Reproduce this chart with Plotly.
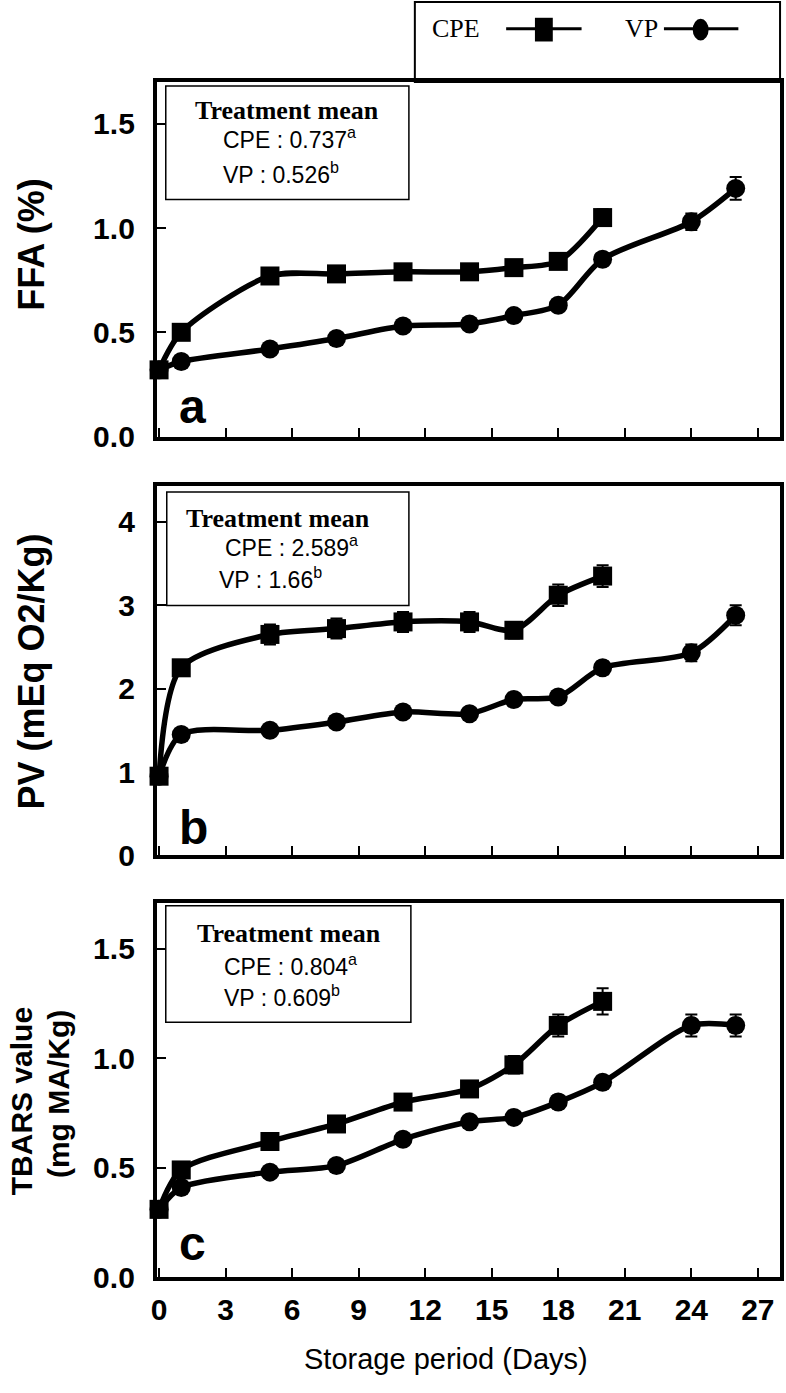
import plotly.graph_objects as go

W, H = 786, 1393

# ---------------- data ----------------
days_cpe = [0, 1, 5, 8, 11, 14, 16, 18, 20]
days_vp = [0, 1, 5, 8, 11, 14, 16, 18, 20, 24, 26]

ffa_cpe = [0.32, 0.50, 0.77, 0.78, 0.79, 0.79, 0.81, 0.84, 1.05]
ffa_cpe_err = [0.02, 0.02, 0.03, 0.03, 0.03, 0.03, 0.03, 0.03, 0.04]
ffa_vp = [0.32, 0.36, 0.42, 0.47, 0.53, 0.54, 0.58, 0.63, 0.85, 1.03, 1.19]
ffa_vp_err = [0.02, 0.02, 0.02, 0.02, 0.02, 0.02, 0.02, 0.02, 0.03, 0.04, 0.055]

pv_cpe = [0.95, 2.25, 2.65, 2.72, 2.80, 2.80, 2.70, 3.12, 3.35]
pv_cpe_err = [0.05, 0.05, 0.12, 0.12, 0.12, 0.12, 0.10, 0.13, 0.13]
pv_vp = [0.95, 1.45, 1.50, 1.60, 1.72, 1.70, 1.87, 1.90, 2.25, 2.43, 2.88]
pv_vp_err = [0.05, 0.05, 0.05, 0.05, 0.05, 0.05, 0.05, 0.06, 0.08, 0.10, 0.12]

tbars_cpe = [0.31, 0.49, 0.62, 0.70, 0.80, 0.86, 0.97, 1.15, 1.26]
tbars_cpe_err = [0.02, 0.03, 0.02, 0.02, 0.03, 0.03, 0.04, 0.05, 0.06]
tbars_vp = [0.31, 0.41, 0.48, 0.51, 0.63, 0.71, 0.73, 0.80, 0.89, 1.15, 1.15]
tbars_vp_err = [0.02, 0.02, 0.02, 0.02, 0.02, 0.02, 0.02, 0.03, 0.03, 0.05, 0.05]

x_ticks = [0, 3, 6, 9, 12, 15, 18, 21, 24, 27]

panel_letters = ["a", "b", "c"]
y_titles = ["FFA (%)", "PV (mEq O2/Kg)"]
tbars_title = ["TBARS value", "(mg MA/Kg)"]
x_title = "Storage period (Days)"
means = [("0.737", "0.526"), ("2.589", "1.66"), ("0.804", "0.609")]


def px(x):
    return x / W


def py(y):
    return 1 - y / H


fig = go.Figure()

panels = [
    dict(cpe=ffa_cpe, cpe_e=ffa_cpe_err, vp=ffa_vp, vp_e=ffa_vp_err),
    dict(cpe=pv_cpe, cpe_e=pv_cpe_err, vp=pv_vp, vp_e=pv_vp_err),
    dict(cpe=tbars_cpe, cpe_e=tbars_cpe_err, vp=tbars_vp, vp_e=tbars_vp_err),
]

for i, p in enumerate(panels):
    xa = "x" if i == 0 else f"x{i+1}"
    ya = "y" if i == 0 else f"y{i+1}"
    for days, vals, errs, sym in [
        (days_vp, p["vp"], p["vp_e"], "circle"),
        (days_cpe, p["cpe"], p["cpe_e"], "square"),
    ]:
        fig.add_trace(go.Scatter(
            x=days, y=vals, xaxis=xa, yaxis=ya,
            mode="lines+markers",
            line=dict(color="black", width=5.5, shape="spline", smoothing=0.8),
            marker=dict(symbol=sym, size=19, color="black"),
            error_y=dict(type="data", array=errs, visible=True,
                         color="black", thickness=2, width=6),
            cliponaxis=False, showlegend=False,
        ))

# ---------------- axes ----------------
x_dom = [px(152), px(780)]
y_doms = [[py(442), py(83)], [py(866), py(492)], [py(1293), py(914)]]
y_ranges = [[0, 1.70], [0, 4.43], [0, 1.71]]
y_tickvals = [[0, 0.5, 1.0, 1.5], [0, 1, 2, 3, 4], [0, 0.5, 1.0, 1.5]]
y_fmt = [".1f", "d", ".1f"]

tickfont = dict(family="Liberation Sans", size=30, color="black", weight="bold")
common = dict(showline=True, mirror=True, linecolor="black", linewidth=4,
              ticks="inside", ticklen=9, tickwidth=2, tickcolor="black",
              showgrid=False, zeroline=False, tickfont=tickfont)

lay = {}
for i in range(3):
    xk = "xaxis" if i == 0 else f"xaxis{i+1}"
    yk = "yaxis" if i == 0 else f"yaxis{i+1}"
    ya = "y" if i == 0 else f"y{i+1}"
    xa = "x" if i == 0 else f"x{i+1}"
    lay[xk] = dict(domain=x_dom, anchor=ya, range=[-0.1, 28.0],
                   tickvals=x_ticks, showticklabels=(i == 2),
                   ticklabelstandoff=3, **common)
    lay[yk] = dict(domain=y_doms[i], anchor=xa, range=y_ranges[i],
                   tickvals=y_tickvals[i], tickformat=y_fmt[i],
                   ticklabelstandoff=12, **common)

shapes = []
annotations = []

# ---------------- treatment mean boxes ----------------
boxes = [(161, 87, 406, 202), (162, 498, 406, 613), (161, 917, 408, 1035)]
tm_pos = [(188, 112), (179, 525), (190, 945)]
cpe_pos = [(217, 140), (219, 553), (218, 977)]
vp_pos = [(217, 175), (213, 585), (218, 1008)]
for i in range(3):
    x0, y0, x1, y1 = boxes[i]
    shapes.append(dict(type="rect", xref="paper", yref="paper",
                       x0=px(x0), x1=px(x1), y0=py(y1), y1=py(y0),
                       line=dict(color="black", width=1.5), fillcolor="white",
                       layer="above"))
    annotations.append(dict(text="Treatment mean", xref="paper", yref="paper",
                            x=px(tm_pos[i][0]), y=py(tm_pos[i][1]),
                            xanchor="left", yanchor="middle", showarrow=False,
                            font=dict(family="Liberation Serif", size=26,
                                      color="black", weight="bold")))
    annotations.append(dict(text=f"CPE : {means[i][0]}<sup>a</sup>",
                            xref="paper", yref="paper",
                            x=px(cpe_pos[i][0]), y=py(cpe_pos[i][1]),
                            xanchor="left", yanchor="middle", showarrow=False,
                            font=dict(family="Liberation Sans", size=23, color="black")))
    annotations.append(dict(text=f"VP : {means[i][1]}<sup>b</sup>",
                            xref="paper", yref="paper",
                            x=px(vp_pos[i][0]), y=py(vp_pos[i][1]),
                            xanchor="left", yanchor="middle", showarrow=False,
                            font=dict(family="Liberation Sans", size=23, color="black")))

# ---------------- panel letters ----------------
letter_y = [412, 838, 1259]
for i in range(3):
    annotations.append(dict(text=panel_letters[i], xref="paper", yref="paper",
                            x=px(172), y=py(letter_y[i]), xanchor="left",
                            yanchor="middle", showarrow=False,
                            font=dict(family="Liberation Sans", size=48,
                                      color="black", weight="bold")))

# ---------------- axis titles ----------------
ttl_font = dict(family="Liberation Sans", size=36, color="black", weight="bold")
annotations.append(dict(text=y_titles[0], xref="paper", yref="paper",
                        x=px(26), y=py(247), textangle=-90, showarrow=False,
                        xanchor="center", yanchor="middle", font=ttl_font))
annotations.append(dict(text=y_titles[1], xref="paper", yref="paper",
                        x=px(26), y=py(680), textangle=-90, showarrow=False,
                        xanchor="center", yanchor="middle", font=ttl_font))
annotations.append(dict(text=tbars_title[0], xref="paper", yref="paper",
                        x=px(16), y=py(1115), textangle=-90, showarrow=False,
                        xanchor="center", yanchor="middle",
                        font=dict(ttl_font, size=30)))
annotations.append(dict(text=tbars_title[1], xref="paper", yref="paper",
                        x=px(53), y=py(1108), textangle=-90, showarrow=False,
                        xanchor="center", yanchor="middle",
                        font=dict(ttl_font, size=30)))
annotations.append(dict(text=x_title, xref="paper", yref="paper",
                        x=px(443), y=py(1376), showarrow=False,
                        xanchor="center", yanchor="middle",
                        font=dict(family="Liberation Sans", size=29, color="black")))

# ---------------- legend box ----------------
shapes.append(dict(type="rect", xref="paper", yref="paper",
                   x0=px(412), x1=px(780), y0=py(83), y1=py(2),
                   line=dict(color="black", width=2), fillcolor="white",
                   layer="below"))
leg_font = dict(family="Liberation Serif", size=26, color="black")
annotations.append(dict(text="CPE", xref="paper", yref="paper", x=px(427), y=py(29),
                        xanchor="left", yanchor="middle", showarrow=False, font=leg_font))
annotations.append(dict(text="VP", xref="paper", yref="paper", x=px(622), y=py(29),
                        xanchor="left", yanchor="middle", showarrow=False, font=leg_font))
shapes.append(dict(type="line", xref="paper", yref="paper", x0=px(504), x1=px(580),
                   y0=py(29), y1=py(29), line=dict(color="black", width=3)))
shapes.append(dict(type="rect", xref="paper", yref="paper", x0=px(533), x1=px(551),
                   y0=py(42), y1=py(18), line=dict(color="black", width=0),
                   fillcolor="black"))
shapes.append(dict(type="line", xref="paper", yref="paper", x0=px(663), x1=px(738),
                   y0=py(29), y1=py(29), line=dict(color="black", width=3)))
shapes.append(dict(type="circle", xref="paper", yref="paper", x0=px(692), x1=px(708),
                   y0=py(41), y1=py(19), line=dict(color="black", width=0),
                   fillcolor="black"))

fig.update_layout(width=W, height=H, margin=dict(l=0, r=0, t=0, b=0),
                  plot_bgcolor="white", paper_bgcolor="white", showlegend=False,
                  shapes=shapes, annotations=annotations, **lay)

fig.write_html(
    "out.html",
    config={"displayModeBar": False},
    post_script="document.body.style.margin='0';document.body.style.overflow='hidden';",
)
